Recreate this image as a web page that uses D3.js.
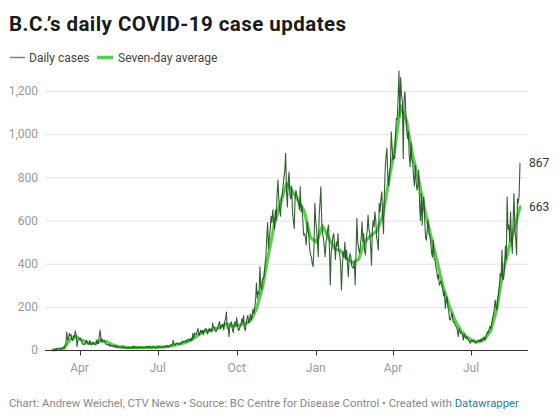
<!DOCTYPE html>
<html>
<head>
<meta charset="utf-8">
<script src="https://cdn.jsdelivr.net/npm/d3@7"></script>
<style>
  html, body { margin: 0; padding: 0; background: #fff; }
  body { width: 560px; height: 418px; overflow: hidden; font-family: Roboto, "Noto Sans", sans-serif; }
  .title { font-size: 20.5px; font-weight: 700; fill: #1a1a1a; letter-spacing: 0.45px; }
  .legend text { font-size: 12px; fill: #444; }
  .axis text { font-size: 12px; fill: #999; }
  .end-label { font-size: 12px; fill: #333; }
  .footer { font-size: 11.3px; fill: #888; }
</style>
</head>
<body>
<div id="chart"></div>
<script>
// daily case counts, one value per day starting 2020-03-01, grouped in weeks (Sun..Sat)
const startDate = new Date(2020, 2, 1);
const dailyCases = [
  0, 1, 3, 2, 1, 8, 5,
  6, 5, 7, 6, 7, 13, 9,
  20, 30, 83, 45, 53, 77, 64,
  72, 48, 43, 67, 60, 88, 70,
  15, 43, 50, 53, 53, 43, 29,
  26, 29, 25, 34, 45, 35, 25,
  29, 44, 25, 23, 34, 33, 29,
  27, 24, 47, 29, 31, 71, 92,
  40, 52, 38, 43, 43, 30, 26,
  26, 23, 25, 17, 23, 18, 20,
  16, 20, 15, 11, 21, 11, 12,
  14, 15, 12, 9, 16, 18, 9,
  11, 13, 9, 7, 11, 11, 8,
  12, 11, 10, 18, 9, 14, 12,
  8, 10, 14, 11, 14, 10, 9,
  13, 11, 12, 14, 13, 16, 11,
  15, 17, 12, 8, 13, 15, 12,
  9, 12, 10, 16, 14, 17, 13,
  12, 15, 14, 16, 11, 19, 17,
  21, 13, 18, 21, 19, 25, 22,
  45, 30, 22, 28, 32, 30, 28,
  25, 30, 28, 34, 42, 36, 38,
  43, 46, 36, 47, 52, 46, 42,
  55, 46, 78, 57, 78, 75, 72,
  88, 100, 68, 76, 92, 80, 90,
  70, 94, 88, 100, 96, 73, 89,
  100, 88, 96, 84, 125, 104, 105,
  88, 85, 95, 100, 120, 132, 98,
  115, 110, 120, 92, 130, 145, 176,
  100, 108, 62, 115, 125, 130, 95,
  80, 120, 130, 110, 150, 115, 90,
  95, 110, 120, 145, 125, 160, 100,
  90, 120, 148, 160, 125, 140, 165,
  140, 160, 190, 170, 200, 230, 310,
  240, 270, 260, 385, 290, 280, 330,
  330, 345, 400, 430, 520, 590, 470,
  520, 560, 620, 590, 650, 600, 560,
  648, 600, 720, 787, 700, 650, 620,
  700, 720, 760, 800, 830, 911, 740,
  663, 780, 825, 720, 700, 760, 640,
  600, 563, 700, 740, 720, 700, 680,
  650, 756, 640, 671, 600, 532, 540,
  520, 486, 594, 560, 532, 470, 440,
  432, 400, 386, 470, 680, 600, 560,
  500, 432, 620, 680, 756, 600, 540,
  517, 480, 432, 500, 520, 560, 579,
  470, 301, 450, 480, 525, 540, 486,
  420, 500, 480, 540, 460, 440, 400,
  278, 380, 455, 430, 500, 420, 463,
  400, 340, 420, 447, 430, 390, 380,
  380, 410, 301, 450, 610, 500, 470,
  450, 478, 520, 594, 500, 540, 460,
  440, 520, 550, 625, 560, 540, 480,
  393, 560, 600, 570, 640, 600, 520,
  500, 463, 680, 640, 700, 733, 620,
  540, 720, 840, 900, 934, 800, 760,
  825, 850, 1011, 940, 880, 900, 887,
  1000, 1073, 1068, 1168, 1293, 1080, 1262,
  1180, 1150, 887, 1168, 1196, 1100, 1020,
  980, 1011, 900, 849, 960, 880, 870,
  802, 760, 856, 780, 740, 760, 833,
  679, 600, 725, 579, 680, 710, 600,
  520, 509, 560, 602, 540, 532, 500,
  450, 430, 509, 420, 417, 380, 370,
  330, 350, 300, 309, 320, 300, 280,
  250, 270, 193, 230, 247, 200, 180,
  140, 139, 160, 170, 130, 131, 120,
  110, 108, 90, 62, 100, 85, 77,
  80, 70, 46, 75, 60, 55, 62,
  50, 45, 40, 31, 45, 38, 42,
  46, 40, 31, 35, 38, 42, 46,
  40, 50, 38, 55, 50, 60, 46,
  60, 70, 85, 80, 95, 110, 100,
  120, 150, 162, 190, 231, 200, 185,
  230, 260, 300, 355, 340, 463, 324,
  330, 380, 480, 420, 710, 560, 579,
  500, 640, 520, 447, 600, 725, 560,
  520, 440, 700, 680, 720, 867
];

// seven-day average: first day, each week's Saturday, last day
const avgFirst = 0;
const avgWeekly = [
  3, 8, 50, 62, 45, 33, 30, 42, 40, 24,
  16, 13, 11, 12, 11, 12, 13, 13, 15, 19,
  28, 33, 44, 63, 82, 88, 98, 104, 122, 110,
  114, 120, 135, 190, 290, 440, 586, 680, 770, 735,
  690, 640, 520, 500, 575, 520, 470, 460, 425, 405,
  420, 500, 530, 550, 620, 780, 930, 1130, 1060, 900,
  790, 650, 530, 420, 300, 210, 140, 90, 60, 42,
  38, 50, 90, 190, 360, 470, 570
];
const avgLast = 663;

const yTicks = [0, 200, 400, 600, 800, 1000, 1200];
const seriesNames = ['Daily cases', 'Seven-day average'];
const titleText = 'B.C.\u2019s daily COVID-19 case updates';

const width = 560;
const height = 418;

const daily = dailyCases.map((v, i) => ({ date: d3.timeDay.offset(startDate, i), value: v }));
const endDate = daily[daily.length - 1].date;
const average = [
  { date: startDate, value: avgFirst },
  ...avgWeekly.map((v, w) => ({ date: d3.timeDay.offset(startDate, 7 * w + 6), value: v })),
  { date: endDate, value: avgLast },
];

const x = d3.scaleTime().domain([startDate, endDate]).range([53, 520]);
const y = d3.scaleLinear().domain([0, 1200]).range([350, 91]);

const svg = d3
  .select('#chart')
  .append('svg')
  .attr('width', width)
  .attr('height', height);

// title
svg.append('text').attr('class', 'title').attr('x', 9).attr('y', 31).text(titleText);

// legend
const legend = svg.append('g').attr('class', 'legend');
legend.append('line').attr('x1', 10).attr('x2', 25).attr('y1', 57.5).attr('y2', 57.5)
  .attr('stroke', '#6f8f6f').attr('stroke-width', 1.5);
legend.append('text').attr('x', 29).attr('y', 62).text(seriesNames[0]);
legend.append('line').attr('x1', 97).attr('x2', 113).attr('y1', 57.5).attr('y2', 57.5)
  .attr('stroke', '#57d14b').attr('stroke-width', 3.5);
legend.append('text').attr('x', 118).attr('y', 62).text(seriesNames[1]);

// gridlines + y labels
const yAxis = svg.append('g').attr('class', 'axis');
yAxis.selectAll('line.grid')
  .data(yTicks.filter((d) => d > 0))
  .join('line')
  .attr('class', 'grid')
  .attr('x1', 45).attr('x2', 528)
  .attr('y1', (d) => y(d) + 0.5).attr('y2', (d) => y(d) + 0.5)
  .attr('stroke', '#e3e3e3');
yAxis.selectAll('text')
  .data(yTicks)
  .join('text')
  .attr('x', 38)
  .attr('y', (d) => y(d))
  .attr('dy', '0.36em')
  .attr('text-anchor', 'end')
  .text((d) => d3.format(',')(d));

// x axis
const xAxis = svg.append('g').attr('class', 'axis');
const months = x.ticks(d3.timeMonth.every(3));
xAxis.selectAll('line')
  .data(months)
  .join('line')
  .attr('x1', (d) => Math.round(x(d)) + 0.5).attr('x2', (d) => Math.round(x(d)) + 0.5)
  .attr('y1', 350).attr('y2', 355.5)
  .attr('stroke', '#333');
xAxis.selectAll('text')
  .data(months)
  .join('text')
  .attr('x', (d) => x(d))
  .attr('y', 372)
  .attr('text-anchor', 'middle')
  .text(d3.timeFormat('%b'));

// lines
const line = d3.line().x((d) => x(d.date)).y((d) => y(d.value));

svg.append('path')
  .datum(average)
  .attr('fill', 'none')
  .attr('stroke', '#57d14b')
  .attr('stroke-width', 3.2)
  .attr('stroke-linejoin', 'round')
  .attr('stroke-linecap', 'round')
  .attr('d', line);

svg.append('path')
  .datum(daily)
  .attr('fill', 'none')
  .attr('stroke', '#1f4f1f')
  .attr('stroke-opacity', 0.9)
  .attr('stroke-width', 1.1)
  .attr('stroke-linejoin', 'round')
  .attr('d', line);

// baseline
svg.append('line')
  .attr('x1', 45).attr('x2', 528)
  .attr('y1', y(0) + 0.5).attr('y2', y(0) + 0.5)
  .attr('stroke', '#333');

// end labels
svg.append('text').attr('class', 'end-label')
  .attr('x', 529).attr('y', y(dailyCases[dailyCases.length - 1])).attr('dy', '0.36em')
  .text(dailyCases[dailyCases.length - 1]);
svg.append('text').attr('class', 'end-label')
  .attr('x', 529).attr('y', y(avgLast)).attr('dy', '0.36em')
  .text(avgLast);

// footer
const footer = svg.append('text').attr('class', 'footer').attr('x', 9).attr('y', 407);
footer.append('tspan').text('Chart: Andrew Weichel, CTV News \u2022 Source: BC Centre for Disease Control \u2022 Created with ');
footer.append('tspan').attr('fill', '#1d81a2').text('Datawrapper');
</script>
</body>
</html>
